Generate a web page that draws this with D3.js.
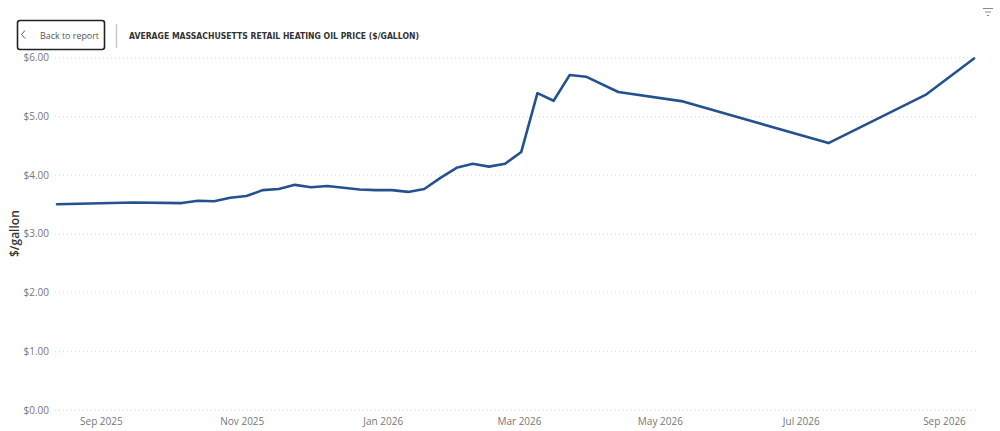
<!DOCTYPE html>
<html>
<head>
<meta charset="utf-8">
<script src="https://cdn.jsdelivr.net/npm/d3@7"></script>
<style>
  body { margin: 0; background: #fff; }
  svg { display: block; }
</style>
</head>
<body>
<div id="chart"></div>
<script>
// ---------------------------------------------------------
// DATA
// ---------------------------------------------------------
var weekDates = [
  "2025-08-13", "2025-09-15", "2025-10-06", "2025-10-13", "2025-10-20",
  "2025-10-27", "2025-11-03", "2025-11-10", "2025-11-17", "2025-11-24",
  "2025-12-01", "2025-12-08", "2025-12-15", "2025-12-22", "2025-12-29",
  "2026-01-05", "2026-01-12", "2026-01-19", "2026-01-26", "2026-02-02",
  "2026-02-09", "2026-02-16", "2026-02-23", "2026-03-02", "2026-03-09",
  "2026-03-16", "2026-03-23", "2026-03-30", "2026-04-13", "2026-05-11",
  "2026-07-13", "2026-08-24", "2026-09-14"
];
var prices = [
  3.50, 3.53, 3.52, 3.56, 3.55,
  3.61, 3.64, 3.74, 3.76, 3.83,
  3.79, 3.81, 3.78, 3.75, 3.74,
  3.74, 3.71, 3.76, 3.95, 4.12,
  4.19, 4.14, 4.19, 4.39, 5.39,
  5.26, 5.70, 5.67, 5.41, 5.25,
  4.54, 5.36, 5.98
];
var yTicks = [0, 1, 2, 3, 4, 5, 6];
var xTickDates = ["2025-09-01", "2025-11-01", "2026-01-01", "2026-03-01", "2026-05-01", "2026-07-01", "2026-09-01"];
var chartTitle = "AVERAGE MASSACHUSETTS RETAIL HEATING OIL PRICE ($/GALLON)";
var yTitle = "$/gallon";

// ---------------------------------------------------------
// SIZES
// ---------------------------------------------------------
var svgWidth = 1000;
var svgHeight = 431;
var plot = { left: 57, right: 974, top: 57.3, bottom: 410 };

var parse = d3.timeParse("%Y-%m-%d");
var series = weekDates.map(function(d, i) { return { date: parse(d), value: prices[i] }; });

var svg = d3.select("#chart")
  .append("svg")
  .attr("width", svgWidth)
  .attr("height", svgHeight);

// ---------------------------------------------------------
// HEADER
// ---------------------------------------------------------
var header = svg.append("g");

header.append("rect")
  .attr("x", 17.5).attr("y", 20.5)
  .attr("width", 87).attr("height", 29)
  .attr("rx", 2.5)
  .attr("fill", "#fff")
  .attr("stroke", "#222")
  .attr("stroke-width", 1.6);

header.append("path")
  .attr("d", "M25,30.5 L21.5,34.5 L25,38.5")
  .attr("fill", "none")
  .attr("stroke", "#555")
  .attr("stroke-width", 1);

header.append("text")
  .attr("x", 40).attr("y", 38.5)
  .attr("font-family", "'Open Sans', sans-serif")
  .attr("font-size", 9.8)
  .attr("fill", "#555")
  .attr("textLength", 59)
  .attr("lengthAdjust", "spacingAndGlyphs")
  .text("Back to report");

header.append("line")
  .attr("x1", 116.5).attr("x2", 116.5)
  .attr("y1", 24).attr("y2", 48)
  .attr("stroke", "#c8c8c8")
  .attr("stroke-width", 1.5);

header.append("text")
  .attr("x", 129).attr("y", 38.5)
  .attr("font-family", "'DejaVu Sans Condensed', 'DejaVu Sans', sans-serif")
  .attr("font-weight", "bold")
  .attr("font-size", 8.5)
  .attr("fill", "#333")
  .attr("textLength", 290)
  .attr("lengthAdjust", "spacingAndGlyphs")
  .text(chartTitle);

// filter icon
var icon = svg.append("g").attr("stroke", "#888").attr("stroke-width", 1);
icon.append("line").attr("x1", 983).attr("x2", 993).attr("y1", 8.5).attr("y2", 8.5);
icon.append("line").attr("x1", 985).attr("x2", 991).attr("y1", 12).attr("y2", 12);
icon.append("line").attr("x1", 987).attr("x2", 989).attr("y1", 15.5).attr("y2", 15.5);

// ---------------------------------------------------------
// SCALES
// ---------------------------------------------------------
var x = d3.scaleTime()
  .domain(d3.extent(series, function(d) { return d.date; }))
  .range([plot.left, plot.right]);

var y = d3.scaleLinear()
  .domain([0, 6])
  .range([plot.bottom, plot.top]);

// ---------------------------------------------------------
// GRID + Y AXIS
// ---------------------------------------------------------
var yAxis = svg.append("g")
  .attr("transform", "translate(" + 55 + ",0)")
  .call(d3.axisLeft(y)
    .tickValues(yTicks)
    .tickSize(-(978 - 55))
    .tickPadding(6)
    .tickFormat(function(d) { return "$" + d3.format(".2f")(d); }));

yAxis.select(".domain").remove();
yAxis.selectAll(".tick line")
  .attr("stroke", "#d9d9d9")
  .attr("stroke-dasharray", "1,3");
yAxis.selectAll(".tick text")
  .attr("font-family", "'Open Sans', sans-serif")
  .attr("font-size", 10)
  .attr("fill", "#777");

svg.append("text")
  .attr("transform", "translate(19," + ((plot.top + plot.bottom) / 2) + ") rotate(-90)")
  .attr("text-anchor", "middle")
  .attr("font-family", "'Open Sans', sans-serif")
  .attr("font-weight", "600")
  .attr("font-size", 12)
  .attr("fill", "#333")
  .text(yTitle);

// ---------------------------------------------------------
// X AXIS
// ---------------------------------------------------------
var xAxis = svg.append("g")
  .attr("transform", "translate(0," + plot.bottom + ")")
  .call(d3.axisBottom(x)
    .tickValues(xTickDates.map(parse))
    .tickSize(0)
    .tickPadding(8)
    .tickFormat(d3.timeFormat("%b %Y")));

xAxis.select(".domain").remove();
xAxis.selectAll(".tick text")
  .attr("font-family", "'Open Sans', sans-serif")
  .attr("font-size", 10)
  .attr("fill", "#777");

// ---------------------------------------------------------
// LINE
// ---------------------------------------------------------
var line = d3.line()
  .x(function(d) { return x(d.date); })
  .y(function(d) { return y(d.value); });

svg.append("path")
  .datum(series)
  .attr("fill", "none")
  .attr("stroke", "#24528f")
  .attr("stroke-width", 2.6)
  .attr("stroke-linejoin", "round")
  .attr("stroke-linecap", "round")
  .attr("d", line);
</script>
</body>
</html>
